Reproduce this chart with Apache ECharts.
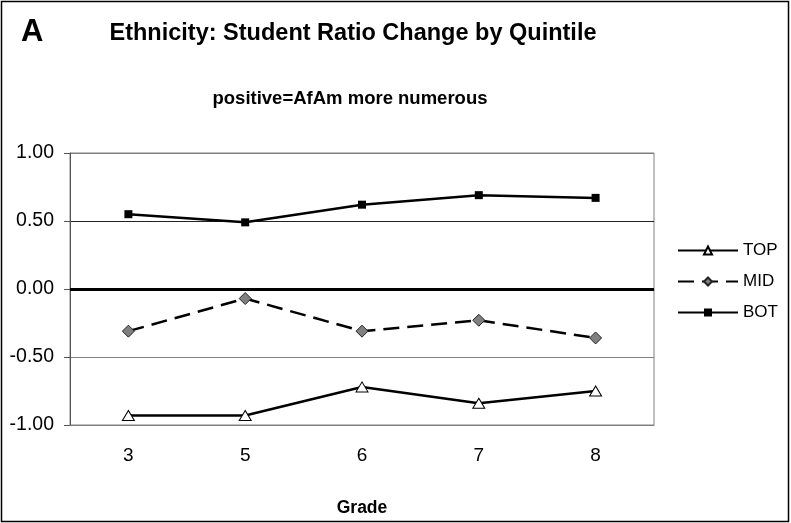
<!DOCTYPE html>
<html>
<head>
<meta charset="utf-8">
<script src="https://cdn.jsdelivr.net/npm/echarts@6/dist/echarts.min.js"></script>
<style>
  html, body { margin: 0; padding: 0; background: #fff; }
  #chart { width: 791px; height: 523px; }
</style>
</head>
<body>
<div id="chart"></div>
<script>
// Grades on the horizontal axis
const grades = ['3', '5', '6', '7', '8'];
// Change in AfAm / other student ratio, by school quintile
const topQuintile = [-0.93, -0.93, -0.72, -0.84, -0.75];
const midQuintile = [-0.31, -0.07, -0.31, -0.23, -0.36];
const botQuintile = [0.55, 0.49, 0.62, 0.69, 0.67];
// Value axis range and step
const yMin = -1, yMax = 1, yStep = 0.5;

const FONT = '"Liberation Sans", Arial, Helvetica, sans-serif';

const chart = echarts.init(document.getElementById('chart'), null, { renderer: 'canvas' });

chart.setOption({
  animation: false,
  backgroundColor: '#fff',
  textStyle: { fontFamily: FONT, color: '#000' },
  graphic: [
    { type: 'rect', silent: true, shape: { x: 1.5, y: 1.5, width: 787, height: 520 },
      style: { fill: 'none', stroke: '#000', lineWidth: 1.5 } },
    { type: 'text', x: 21, y: 32,
      style: { text: 'A', font: 'bold 31px ' + FONT, fill: '#000', textAlign: 'left', textVerticalAlign: 'middle' } },
    { type: 'text', x: 353, y: 34,
      style: { text: 'Ethnicity: Student Ratio Change by Quintile', font: 'bold 23.5px ' + FONT, fill: '#000',
               textAlign: 'center', textVerticalAlign: 'middle' } },
    { type: 'text', x: 350, y: 98.5,
      style: { text: 'positive=AfAm more numerous', font: 'bold 18.5px ' + FONT, fill: '#000',
               textAlign: 'center', textVerticalAlign: 'middle' } }
  ],
  grid: {
    left: 70, right: 137, top: 153, bottom: 98,
    show: true, borderColor: '#808080', borderWidth: 1, backgroundColor: 'transparent'
  },
  legend: {
    orient: 'vertical', left: 672, top: 237,
    itemWidth: 60, itemHeight: 10, itemGap: 14,
    textStyle: { fontFamily: FONT, fontSize: 17, color: '#000' },
    data: ['TOP', 'MID', 'BOT']
  },
  xAxis: {
    type: 'category', data: grades, boundaryGap: true,
    axisLine: { onZero: false, lineStyle: { color: '#808080', width: 1 } },
    axisTick: { show: false },
    axisLabel: { fontFamily: FONT, fontSize: 19, color: '#000', margin: 21 },
    splitLine: { show: false },
    name: 'Grade', nameLocation: 'middle', nameGap: 74,
    nameTextStyle: { fontFamily: FONT, fontSize: 17.5, fontWeight: 'bold', color: '#000' }
  },
  yAxis: {
    type: 'value', min: yMin, max: yMax, interval: yStep,
    axisLine: { show: true, lineStyle: { color: '#555', width: 1 } },
    axisTick: { show: true, length: 6, lineStyle: { color: '#555' } },
    axisLabel: { fontFamily: FONT, fontSize: 19.5, color: '#000', margin: 16,
                 formatter: v => v.toFixed(2) },
    splitLine: { show: true, lineStyle: { color: ['#808080', '#808080', '#000', '#222', '#808080'], width: 1 } }
  },
  series: [
    {
      name: 'TOP', type: 'line', data: topQuintile,
      symbol: 'triangle', symbolSize: [12, 10],
      lineStyle: { color: '#000', width: 2.5 },
      itemStyle: { color: '#fff', borderColor: '#000', borderWidth: 1 },
      z: 3
    },
    {
      name: 'MID', type: 'line', data: midQuintile,
      symbol: 'diamond', symbolSize: 12,
      lineStyle: { color: '#000', width: 2.5, type: [16, 8] },
      itemStyle: { color: '#808080', borderColor: '#222', borderWidth: 1 },
      z: 3
    },
    {
      name: 'BOT', type: 'line', data: botQuintile,
      symbol: 'rect', symbolSize: 8,
      lineStyle: { color: '#000', width: 2.5 },
      itemStyle: { color: '#000' },
      z: 3,
      markLine: {
        silent: true, symbol: 'none', label: { show: false },
        lineStyle: { color: '#000', width: 3, type: 'solid' },
        data: [{ yAxis: 0 }]
      }
    }
  ]
});
</script>
</body>
</html>
